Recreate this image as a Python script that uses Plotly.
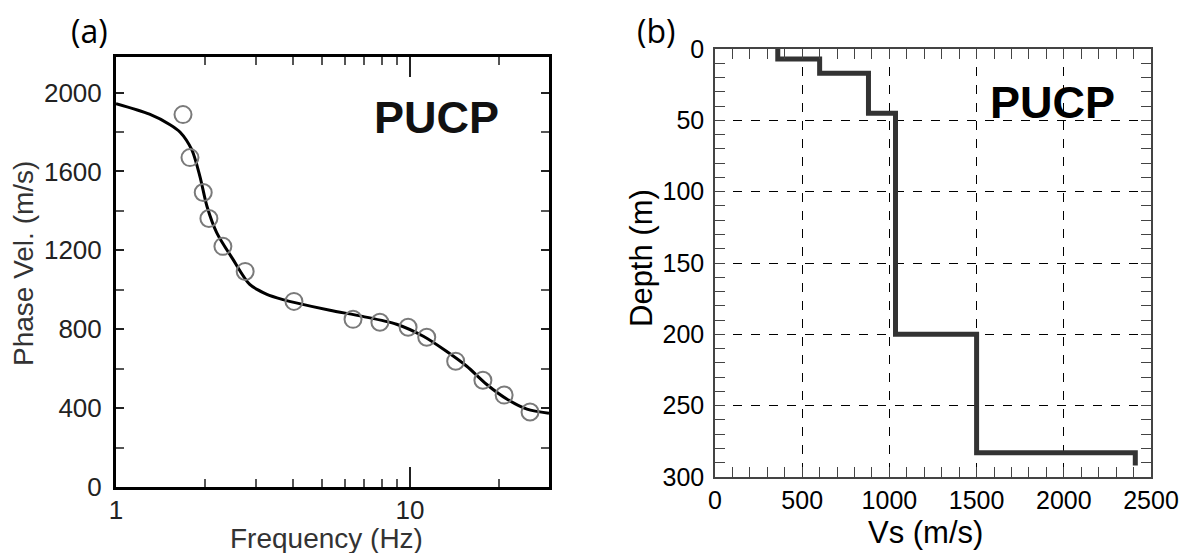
import numpy as np
import plotly.graph_objects as go

W, H = 1195, 553
OFF = 8  # page body margin shifts the figure

# ===== panel (a): dispersion curve =====
obs_freq = [1.69, 1.785, 1.98, 2.07, 2.31, 2.75, 4.03, 6.4, 7.9, 9.85, 11.4, 14.3, 17.7, 20.9, 25.6]
obs_vel = [1888, 1670, 1493, 1361, 1220, 1093, 941, 850, 835, 810, 759, 638, 541, 466, 380]

fit_freq = [1.0, 1.3, 1.527, 1.65, 1.81, 1.93, 2.04, 2.2, 2.5, 2.85, 3.26, 3.7, 4.03, 5.34, 6.9, 9.0,
            11.1, 13.3, 15.6, 18.2, 21.4, 25.0, 29.7]
fit_vel = [1943, 1890, 1837, 1800, 1710, 1574, 1422, 1290, 1154, 1027, 977, 950, 936, 896, 865, 825,
           764, 688, 612, 521, 445, 395, 374]

vel_ticks = [0, 400, 800, 1200, 1600, 2000]
freq_major = [1, 10]
freq_minor = [2, 3, 4, 5, 6, 7, 8, 9, 20, 30]

# ===== panel (b): Vs profile =====
layer_vs = [360, 600, 880, 1035, 1500, 2410, 2410]
layer_top = [0, 7, 17, 45, 200, 283, 292]

vs_ticks = [0, 500, 1000, 1500, 2000, 2500]
depth_ticks = [0, 50, 100, 150, 200, 250, 300]


def px_x(p):
    return (p - OFF) / W


def px_y(p):
    return 1 - (p - OFF) / H


fig = go.Figure()

fig.add_trace(go.Scatter(
    x=fit_freq, y=fit_vel, mode='lines', line=dict(color='black', width=3, shape='spline', smoothing=0.8),
    xaxis='x', yaxis='y', showlegend=False, hoverinfo='skip'))
fig.add_trace(go.Scatter(
    x=obs_freq, y=obs_vel, mode='markers',
    marker=dict(symbol='circle-open', size=17, color='#7a7a7a', line=dict(width=2, color='#7a7a7a')),
    xaxis='x', yaxis='y', showlegend=False))

fig.add_trace(go.Scatter(
    x=layer_vs, y=layer_top, mode='lines', line=dict(color='#333333', width=5, shape='vh'),
    xaxis='x2', yaxis='y2', showlegend=False))

font_a = 'Liberation Sans, Arial, sans-serif'

fig.update_layout(
    width=W, height=H,
    paper_bgcolor='white', plot_bgcolor='white',
    margin=dict(l=0, r=0, t=0, b=0, autoexpand=False),
    font=dict(family=font_a, color='black'),
    xaxis=dict(
        type='log', domain=[px_x(116), px_x(549)], range=[0, np.log10(29.7)],
        anchor='y', showgrid=False, zeroline=False, automargin=False,
        showline=True, linecolor='black', linewidth=3, mirror='allticks',
        tickmode='array', tickvals=freq_major, ticktext=['1', '10'],
        ticks='inside', ticklen=20, tickwidth=2, tickcolor='#222222',
        tickfont=dict(size=26, color='#222222'), ticklabelstandoff=-2,
        minor=dict(tickmode='array', tickvals=freq_minor, ticks='inside', ticklen=8,
                   tickwidth=2, tickcolor='#555555', showgrid=False),
    ),
    yaxis=dict(
        domain=[px_y(487), px_y(57)], range=[0, 2180],
        anchor='x', showgrid=False, zeroline=False, automargin=False,
        showline=True, linecolor='black', linewidth=3, mirror='allticks',
        tickmode='array', tickvals=vel_ticks,
        ticks='inside', ticklen=8, tickwidth=2, tickcolor='#222222',
        tickfont=dict(size=26, color='#222222'), ticklabelstandoff=6,
        minor=dict(dtick=200, tick0=0, ticks='inside', ticklen=8, tickwidth=2,
                   tickcolor='#555555', showgrid=False),
    ),
    xaxis2=dict(
        domain=[px_x(715), px_x(1151)], range=[0, 2500],
        anchor='y2', zeroline=False, automargin=False,
        showline=True, linecolor='#444444', linewidth=1.5, mirror='allticks',
        tickmode='array', tickvals=vs_ticks,
        showgrid=True, gridcolor='black', gridwidth=1, griddash='dash',
        ticks='inside', ticklen=10, tickwidth=1, tickcolor='#444444',
        tickfont=dict(size=25, color='black'),
        minor=dict(dtick=100, tick0=0, ticks='inside', ticklen=10, tickwidth=1,
                   tickcolor='#444444', showgrid=False),
    ),
    yaxis2=dict(
        domain=[px_y(477), px_y(49)], range=[300, 0],
        anchor='x2', zeroline=False, automargin=False,
        showline=True, linecolor='#444444', linewidth=1.5, mirror='allticks',
        tickmode='array', tickvals=depth_ticks,
        showgrid=True, gridcolor='black', gridwidth=1, griddash='dash',
        ticks='inside', ticklen=10, tickwidth=1, tickcolor='#444444',
        tickfont=dict(size=25, color='black'), ticklabelstandoff=4,
        minor=dict(dtick=10, tick0=0, ticks='inside', ticklen=10, tickwidth=1,
                   tickcolor='#444444', showgrid=False),
    ),
)

annots = [
    dict(text='(a)', x=90, y=31, size=32, family='Open Sans, Lato, sans-serif', color='black', angle=0),
    dict(text='(b)', x=656, y=31, size=32, family='Open Sans, Lato, sans-serif', color='black', angle=0),
    dict(text='<b>PUCP</b>', x=436, y=117, size=45, family=font_a, color='#111111', angle=0),
    dict(text='<b>PUCP</b>', x=1052, y=102, size=45, family=font_a, color='black', angle=0),
    dict(text='Frequency (Hz)', x=326, y=538, size=28, family=font_a, color='#333333', angle=0),
    dict(text='Phase Vel. (m/s)', x=24, y=264, size=28, family=font_a, color='#333333', angle=-90),
    dict(text='Vs (m/s)', x=925, y=532, size=31, family=font_a, color='black', angle=0),
    dict(text='Depth (m)', x=641, y=258, size=31, family=font_a, color='black', angle=-90),
]
for a in annots:
    fig.add_annotation(
        text=a['text'], x=px_x(a['x']), y=px_y(a['y']), xref='paper', yref='paper',
        xanchor='center', yanchor='middle', showarrow=False, textangle=a['angle'],
        font=dict(size=a['size'], family=a['family'], color=a['color']))

fig.write_html("out.html")
